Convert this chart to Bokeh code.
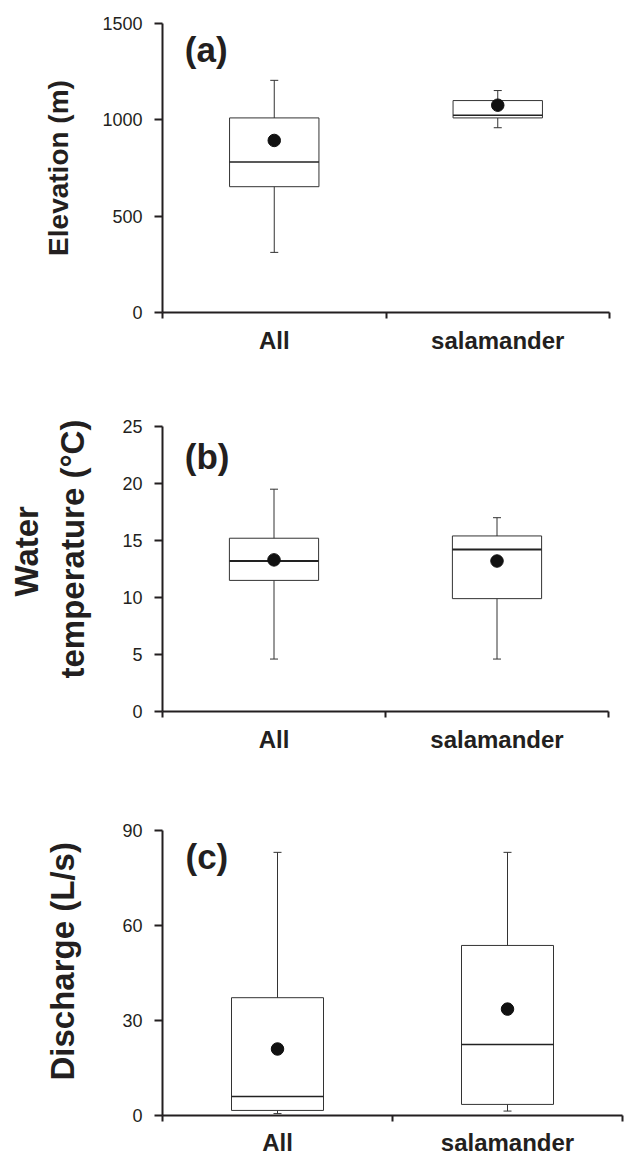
from bokeh.plotting import figure
from bokeh.models import Range1d, FixedTicker, Whisker, TeeHead, ColumnDataSource, Label, Title
from bokeh.layouts import column
from bokeh.transform import dodge
from bokeh.embed import file_html
from bokeh.resources import INLINE

categories = ["All", "salamander"]

elev_low = [312, 959]
elev_q1 = [653, 1010]
elev_median = [781, 1024]
elev_q3 = [1010, 1100]
elev_high = [1205, 1152]
elev_mean = [893, 1076]
elev_ticks = [0, 500, 1000, 1500]

temp_low = [4.6, 4.6]
temp_q1 = [11.5, 9.9]
temp_median = [13.2, 14.2]
temp_q3 = [15.2, 15.4]
temp_high = [19.5, 17.0]
temp_mean = [13.3, 13.2]
temp_ticks = [0, 5, 10, 15, 20, 25]

dis_low = [0.6, 1.4]
dis_q1 = [1.6, 3.5]
dis_median = [6.0, 22.4]
dis_q3 = [37.2, 53.7]
dis_high = [83.1, 83.1]
dis_mean = [21.0, 33.6]
dis_ticks = [0, 30, 60, 90]

FONT = "Liberation Sans"
INK = "#231f20"
xs = [i + 0.5 for i in range(len(categories))]
bounds = list(range(len(categories) + 1))


def panel(yticks, lo, q1, med, q3, hi, mean, tag, tag_y, fw, fh,
          bl, br, bt, bb, xlab_standoff, med_w):
    p = figure(frame_width=fw, frame_height=fh,
               x_range=Range1d(0, len(categories)),
               y_range=Range1d(yticks[0], yticks[-1]),
               output_backend="svg", toolbar_location=None,
               min_border_left=bl, min_border_right=br,
               min_border_top=bt, min_border_bottom=bb)
    p.grid.visible = False
    p.outline_line_color = None
    p.background_fill_color = "white"
    p.border_fill_color = "white"

    src = ColumnDataSource(dict(x=xs, lo=lo, q1=q1, med=med, q3=q3, hi=hi, mean=mean))

    wh = Whisker(base="x", lower="lo", upper="hi", source=src, dimension="height",
                 line_color="#333333", line_width=1, level="underlay",
                 upper_head=TeeHead(size=8, line_color="#333333", line_width=1),
                 lower_head=TeeHead(size=8, line_color="#333333", line_width=1))
    p.add_layout(wh)
    p.vbar(x="x", width=0.4, bottom="q1", top="q3", fill_color="white",
           line_color="#333333", line_width=1, source=src)
    p.segment(x0=dodge("x", -0.2), y0="med", x1=dodge("x", 0.2), y1="med",
              line_color="#222222", line_width=med_w, source=src)
    p.scatter(x="x", y="mean", size=12.5, fill_color="#111111",
              line_color="#111111", source=src)

    ya = p.yaxis[0]
    ya.ticker = FixedTicker(ticks=yticks, minor_ticks=[])
    ya.major_tick_out = 8
    ya.major_tick_in = 0
    ya.minor_tick_out = 0
    ya.minor_tick_in = 0
    ya.axis_line_width = 2
    ya.axis_line_color = INK
    ya.major_tick_line_width = 2
    ya.major_tick_line_color = INK
    ya.major_label_text_font = FONT
    ya.major_label_text_font_size = "18px"
    ya.major_label_text_color = INK
    ya.major_label_standoff = 12

    xa = p.xaxis[0]
    xa.ticker = FixedTicker(ticks=xs, minor_ticks=bounds)
    xa.major_label_overrides = {x: c for x, c in zip(xs, categories)}
    xa.major_tick_out = 0
    xa.major_tick_in = 0
    xa.major_tick_line_color = None
    xa.minor_tick_out = 6
    xa.minor_tick_in = 0
    xa.minor_tick_line_width = 2
    xa.minor_tick_line_color = INK
    xa.axis_line_width = 2
    xa.axis_line_color = INK
    xa.major_label_text_font = FONT
    xa.major_label_text_font_style = "bold"
    xa.major_label_text_font_size = "24px"
    xa.major_label_text_color = INK
    xa.major_label_standoff = xlab_standoff

    p.add_layout(Label(x=0.1, y=tag_y, text=tag, text_font=FONT,
                       text_font_style="bold", text_font_size="35px",
                       text_color=INK, text_baseline="alphabetic"))
    return p


def side_title(p, text, offset, standoff, size):
    p.add_layout(Title(text=text, align="left", offset=offset, standoff=standoff,
                       text_font=FONT, text_font_style="bold",
                       text_font_size=size, text_color=INK), "left")


pa = panel(elev_ticks, elev_low, elev_q1, elev_median, elev_q3,
           elev_high, elev_mean, "(a)", 1366, 447, 289, 160, 21, 23, 68, 8, 1.5)
ya = pa.yaxis[0]
ya.axis_label = "Elevation (m)"
ya.axis_label_text_font = FONT
ya.axis_label_text_font_style = "bold"
ya.axis_label_text_font_size = "28px"
ya.axis_label_text_color = INK
ya.axis_label_standoff = 25

pb = panel(temp_ticks, temp_low, temp_q1, temp_median,
           temp_q3, temp_high, temp_mean, "(b)", 22.4, 446, 285, 162, 20, 46, 79, 8, 2)
side_title(pb, "temperature (°C)", 33, 58, "33px")
side_title(pb, "Water", 115, -45, "33px")

pc = panel(dis_ticks, dis_low, dis_q1, dis_median, dis_q3,
           dis_high, dis_mean, "(c)", 81.8, 460, 285, 162, 6, 40, 45, 7, 1.5)
side_title(pc, "Discharge (L/s)", 35, 78, "33px")

layout = column(pa, pb, pc, spacing=0)
open("out.html", "w").write(file_html(layout, INLINE))
